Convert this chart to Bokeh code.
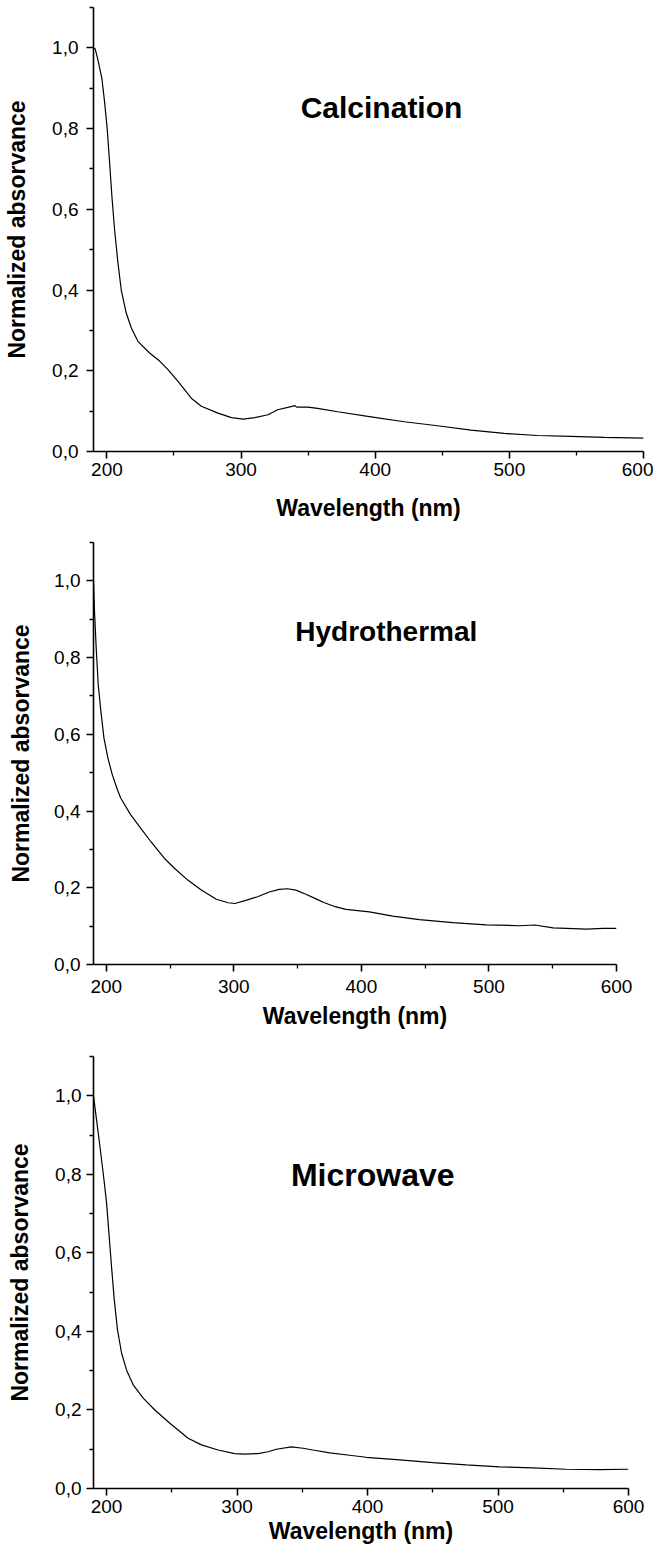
from bokeh.plotting import figure
from bokeh.layouts import column
from bokeh.models import Range1d, FixedTicker, CustomJSTickFormatter, Label
from bokeh.embed import file_html
from bokeh.resources import INLINE

# ---------------- data ----------------
calc_wl = [190, 191.3, 193.3, 196.3, 198.3, 200.2, 202, 203.7, 205.7, 208.2, 210.7, 214.4,
           218.2, 223.1, 231.8, 239.3, 245.5, 253, 262.9, 270.4, 282.8, 292.8, 301.5, 310.2,
           320.1, 327.3, 337.3, 340.2, 341.5, 349.7, 357.1, 372, 396.9, 421.7, 446.5, 471.4,
           496.2, 521, 545.9, 570.7, 600]
calc_abs = [1.000, 0.997, 0.970, 0.923, 0.865, 0.800, 0.716, 0.633, 0.550, 0.468, 0.400, 0.343,
            0.306, 0.273, 0.244, 0.224, 0.203, 0.174, 0.132, 0.112, 0.095, 0.084, 0.080, 0.084,
            0.091, 0.1035, 0.111, 0.1135, 0.110, 0.110, 0.107, 0.0985, 0.086, 0.0737, 0.0638, 0.053,
            0.0447, 0.0397, 0.0373, 0.0348, 0.033]

hydro_wl = [190, 190.8, 192.1, 193.7, 195.5, 198.2, 201.3, 204.7, 208.7, 211.3, 219.2, 227.1,
            235, 245.5, 253.4, 263.9, 274.5, 286.3, 295.5, 300.8, 309.4, 318.6, 327.7, 335.6,
            342.1, 348.7, 356.5, 364.4, 371, 380.1, 388, 406.3, 424.6, 445.5, 471.7, 497.9,
            524.1, 535.9, 550.3, 576.4, 589.5, 600]
hydro_abs = [1.000, 0.920, 0.826, 0.730, 0.669, 0.590, 0.538, 0.495, 0.456, 0.434, 0.390, 0.355,
             0.320, 0.277, 0.251, 0.220, 0.194, 0.170, 0.161, 0.159, 0.167, 0.1766, 0.189, 0.1957,
             0.1975, 0.194, 0.183, 0.171, 0.161, 0.150, 0.1435, 0.137, 0.126, 0.117, 0.109, 0.1035,
             0.101, 0.103, 0.0957, 0.0922, 0.094, 0.094]

micro_wl = [190, 192.3, 194.9, 197.4, 200, 201.8, 203.8, 205.9, 208.4, 211.5, 215.3, 220.4,
            228.1, 237, 248.5, 262.5, 272.7, 285.5, 298.2, 305.9, 316.1, 323.7, 330.1, 341.6,
            350.5, 358.2, 371, 386.3, 399, 424.6, 450.1, 475.6, 501.1, 526.6, 552.2, 577.7, 600]
micro_abs = [1.000, 0.940, 0.872, 0.804, 0.728, 0.651, 0.566, 0.481, 0.404, 0.345, 0.302, 0.264,
             0.230, 0.200, 0.166, 0.128, 0.111, 0.098, 0.089, 0.0877, 0.089, 0.0936, 0.0999, 0.106,
             0.1025, 0.098, 0.0907, 0.0846, 0.0795, 0.0729, 0.066, 0.060, 0.055, 0.0525, 0.049, 0.048, 0.049]

x_major = [200, 300, 400, 500, 600]
x_minor = [250, 350, 450, 550]
y_major = [0.0, 0.2, 0.4, 0.6, 0.8, 1.0]
y_minor = [0.1, 0.3, 0.5, 0.7, 0.9, 1.1]

x_title = "Wavelength (nm)"
y_title = "Normalized absorvance"

FONT = "Liberation Sans"


def make_panel(wl, ab, name, name_x, name_y, name_size,
               fw, fh, bl, br, bt, bb, ylab_std, ytick_std, xtick_std, xlab_std):
    p = figure(frame_width=fw, frame_height=fh, output_backend="svg", toolbar_location=None,
               x_range=Range1d(190, 600), y_range=Range1d(0, 1.1),
               min_border_left=bl, min_border_right=br, min_border_top=bt, min_border_bottom=bb)
    p.outline_line_color = None
    p.xgrid.visible = False
    p.ygrid.visible = False
    p.background_fill_color = "white"
    p.border_fill_color = "white"

    p.line(wl, ab, line_color="black", line_width=1.2)

    xa = p.xaxis[0]
    ya = p.yaxis[0]
    xa.ticker = FixedTicker(ticks=x_major, minor_ticks=x_minor)
    ya.ticker = FixedTicker(ticks=y_major, minor_ticks=y_minor)
    ya.formatter = CustomJSTickFormatter(code="return tick.toFixed(1).replace('.', ',');")
    for ax in (xa, ya):
        ax.axis_line_color = "black"
        ax.axis_line_width = 1.6
        ax.major_tick_line_color = "black"
        ax.major_tick_line_width = 1.6
        ax.minor_tick_line_color = "black"
        ax.minor_tick_line_width = 1.3
        ax.major_tick_in = 0
        ax.major_tick_out = 7
        ax.minor_tick_in = 0
        ax.minor_tick_out = 4
        ax.major_label_text_font = FONT
        ax.major_label_text_font_size = "19px"
        ax.major_label_text_color = "black"
        ax.axis_label_text_font = FONT
        ax.axis_label_text_font_size = "23px"
        ax.axis_label_text_font_style = "bold"
        ax.axis_label_text_color = "black"
    xa.axis_label = x_title
    ya.axis_label = y_title
    ya.major_label_standoff = ytick_std
    ya.axis_label_standoff = ylab_std
    xa.major_label_standoff = xtick_std
    xa.axis_label_standoff = xlab_std

    p.add_layout(Label(x=name_x, y=name_y, text=name, text_align="center",
                       text_baseline="alphabetic", text_font=FONT,
                       text_font_size=name_size, text_font_style="bold", text_color="black"))
    return p


p1 = make_panel(calc_wl, calc_abs, "Calcination", 404.7, 0.852, "30px",
                550, 444, 88, 11, 7, 76, 19, 8, 4, 16)
p2 = make_panel(hydro_wl, hydro_abs, "Hydrothermal", 419.5, 0.867, "28px",
                523, 422, 90, 20, 15, 75, 17, 6, 8, 7)
p3 = make_panel(micro_wl, micro_abs, "Microwave", 404.0, 0.7985, "32px",
                535, 432, 93, 21, 17, 62, 19, 5, 4, 2)

layout = column(p1, p2, p3, spacing=0)
open("out.html", "w").write(file_html(layout, INLINE))
